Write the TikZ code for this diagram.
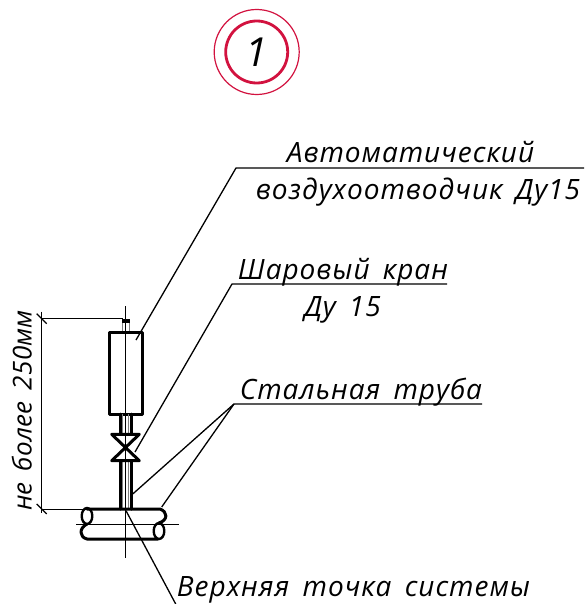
\documentclass[tikz,border=0pt]{standalone}
\usepackage{fontspec}
\setmainfont{Open Sans}[UprightFont=* Italic,LetterSpace=3.5,WordSpace=1.6]
\definecolor{crimson}{HTML}{D2123F}
\tikzstyle{label} = [anchor=base,inner sep=0pt,font=\fontsize{28}{28}\selectfont]
\tikzstyle{leader} = [line width=1.3pt]
\tikzstyle{thin} = [line width=0.8pt]
\tikzstyle{thick} = [line width=3pt]
\tikzstyle{gost} = [line width=3pt,line join=round,line cap=round]

\begin{document}
\begin{tikzpicture}[x=1pt,y=-1pt]
\useasboundingbox (0,0) rectangle (584,604);
% position mark
\node[circle,draw=crimson,line width=1.2pt,minimum size=85pt,inner sep=0pt] (outer) at (256.7,52) {};
\node[circle,draw=crimson,line width=2.8pt,minimum size=62pt,inner sep=0pt,font=\fontsize{40}{40}\selectfont] (mark) at (256.7,52) {1};

% labels
\node[label] (auto) at (410.5,162) {Автоматический};
\node[label] (vent) at (418,199) {воздухоотводчик Ду15};
\node[label] (ball) at (343,279) {Шаровый кран};
\node[label] (dn) at (342.5,316) {Ду 15};
\node[label] (steel) at (361,399) {Стальная труба};
\node[label] (top) at (353.5,596.5) {Верхняя точка системы};
\node[label,rotate=90,font=\fontsize{26}{26}\selectfont\addfontfeature{LetterSpace=1}] (dim) at (31.5,410.5) {не более 250мм};

% shelves and leader ends
\coordinate (s1) at (236,168);
\coordinate (s1e) at (584,168);
\coordinate (s2) at (232,284);
\coordinate (s2e) at (447,284);
\coordinate (s3) at (234,404);
\coordinate (s3e) at (482,404);
\coordinate (l1) at (136,340);
\coordinate (l2) at (135,452);
\coordinate (l3) at (132.7,494);
\coordinate (l4) at (161.7,507);
\coordinate (l5) at (126,510.7);
\coordinate (l6) at (175.7,604);
\draw[leader] (s1e) -- (s1) -- (l1);
\draw[leader] (s2e) -- (s2) -- (l2);
\draw[leader] (s3e) -- (s3) -- (l3);
\draw[leader] (s3) -- (l4);
\draw[leader] (l5) -- (l6);

% dimension
\coordinate (d1) at (41.7,318.7);
\coordinate (d2) at (41.7,509);
\draw[thin] (41.7,311.7) -- (41.7,513.3);
\draw[thin] (d1) -- (123,318.7);
\draw[thin] (d2) -- (86,509);
\draw[leader] (36.7,313.7) -- (46.7,323.7);
\draw[leader] (36.7,504) -- (46.7,514);

% air vent
\draw[gray,line width=0.8pt] (122,322) rectangle (129.5,332);
\fill (121.7,318.5) rectangle (130,322.7);
\draw[gost] (109,332.7) rectangle (142.7,414.3);

% pipe
\draw[gray,line width=0.8pt] (122.6,414) -- (122.6,434) (122.6,461) -- (122.6,509);
\draw[gray,line width=0.8pt] (128.8,414) -- (128.8,434) (128.8,461) -- (128.8,509);
\draw[gost] (120,414) -- (120,434) (131,414) -- (131,434);
\draw[gost] (120,461) -- (120,509) (131,461) -- (131,509);

% valve
\draw[gost] (111.7,434.3) -- (139.3,434.3) -- (111.7,460.7) -- (139.3,460.7) -- cycle;

% main
\draw[gost] (87,524) .. controls (79,528) and (79,537) .. (87,539) -- (158,539);
\draw[gost] (87,509) -- (160,509) .. controls (168,512) and (168,520) .. (159,523);
\draw[gost,line width=2.4pt] (87,516) ellipse (5.3 and 8);
\draw[gost,line width=2.4pt] (159,531) ellipse (5.3 and 8);

% axes
\draw[thin] (125.7,306) -- (125.7,558);
\draw[thin] (76,524) -- (179,524);
\end{tikzpicture}
\end{document}
